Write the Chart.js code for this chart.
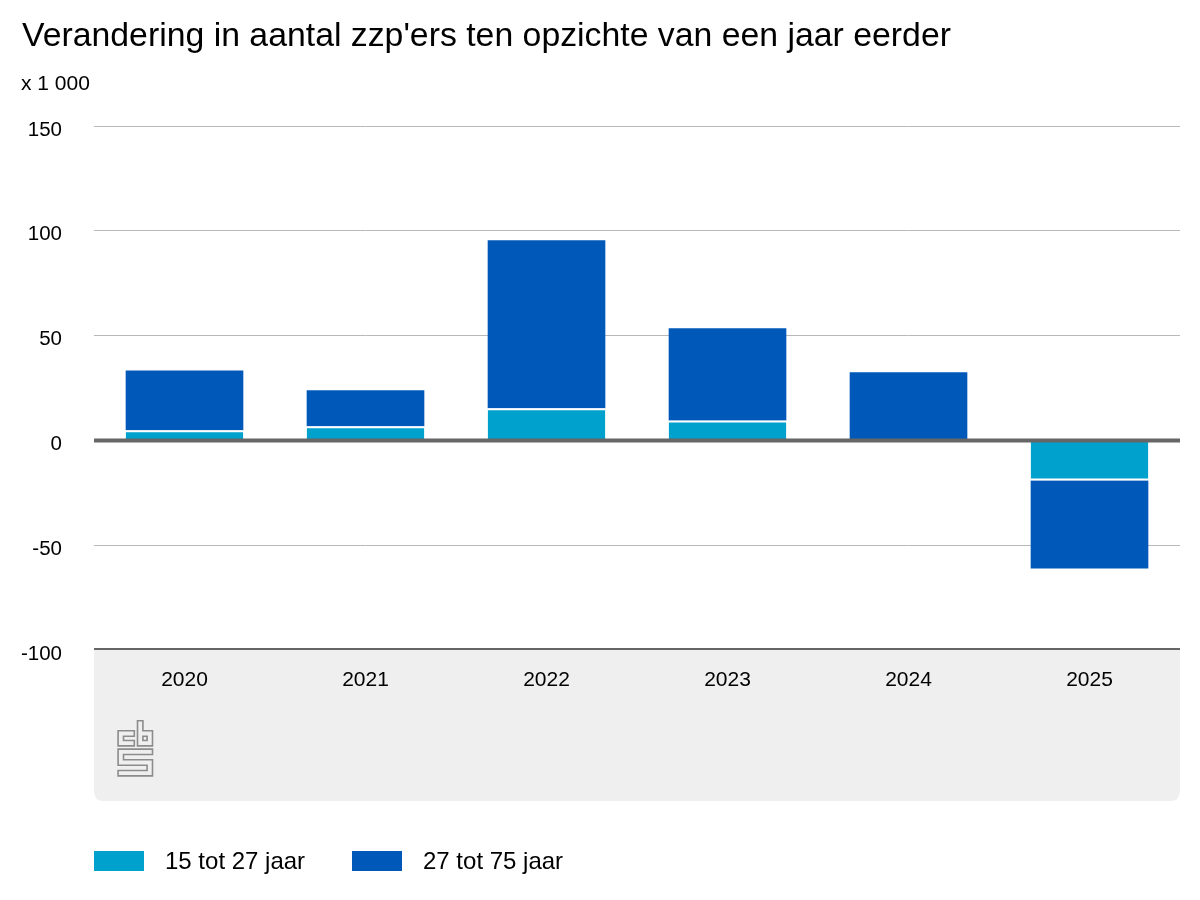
<!DOCTYPE html>
<html>
<head>
<meta charset="utf-8">
<script src="https://cdn.jsdelivr.net/npm/chart.js@4.4.1/dist/chart.umd.min.js"></script>
<style>
  html, body { margin: 0; padding: 0; background: #fff; }
  body { width: 1200px; height: 900px; position: relative; overflow: hidden; font-family: "Liberation Sans", Arial, Helvetica, sans-serif; }
  #wrap { position: absolute; left: 0; top: 0; width: 1200px; height: 900px; }
  #title { position: absolute; left: 22px; top: 18px; font-size: 33.8px; line-height: 1; color: #000; white-space: nowrap; }
  #unit { position: absolute; left: 21px; top: 72px; font-size: 21px; line-height: 1; color: #000; }
  .leg { position: absolute; top: 849px; font-size: 24px; line-height: 1; color: #000; display: flex; align-items: center; white-space: nowrap; }
  .leg .sw { width: 50px; height: 20px; margin-right: 21px; }
</style>
</head>
<body>
<div id="wrap"><canvas id="c" width="1200" height="900"></canvas></div>
<div id="title">Verandering in aantal zzp'ers ten opzichte van een jaar eerder</div>
<div id="unit">x 1 000</div>
<div class="leg" style="left:94px"><div class="sw" style="background:#00a1cd"></div>15 tot 27 jaar</div>
<div class="leg" style="left:352px"><div class="sw" style="background:#0058b8"></div>27 tot 75 jaar</div>
<script>
const categories = ['2020', '2021', '2022', '2023', '2024', '2025'];
const seriesNames = ['15 tot 27 jaar', '27 tot 75 jaar'];
const young = [4.8, 6.7, 15.3, 9.5, 0, -19.1];
const older = [28.6, 17.2, 80.2, 44.0, 32.5, -42.0];
const yTicks = [-100, -50, 0, 50, 100, 150];

const colors = ['#00a1cd', '#0058b8'];

function band(ctx, pts) {
  const path = () => { ctx.beginPath(); ctx.moveTo(pts[0][0], pts[0][1]); for (let i = 1; i < pts.length; i++) ctx.lineTo(pts[i][0], pts[i][1]); };
  ctx.lineCap = 'square'; ctx.lineJoin = 'miter';
  path(); ctx.strokeStyle = '#8c8c8c'; ctx.lineWidth = 7; ctx.stroke();
  path(); ctx.strokeStyle = '#efefef'; ctx.lineWidth = 3.8; ctx.stroke();
}

const decor = {
  id: 'decor',
  beforeDraw(chart) {
    const { ctx, chartArea } = chart;
    const l = chartArea.left, r = chartArea.right, t = chartArea.bottom, b = 801, rad = 10;
    ctx.save();
    ctx.fillStyle = '#efefef';
    ctx.beginPath();
    ctx.moveTo(l, t);
    ctx.lineTo(r, t);
    ctx.lineTo(r, b - rad);
    ctx.quadraticCurveTo(r, b, r - rad, b);
    ctx.lineTo(l + rad, b);
    ctx.quadraticCurveTo(l, b, l, b - rad);
    ctx.closePath();
    ctx.fill();
    // cbs logo
    band(ctx, [[131.6, 733.5], [120.8, 733.5], [120.8, 743.2], [131.6, 743.2]]);
    band(ctx, [[140.2, 723.5], [140.2, 743.2], [149.8, 743.2], [149.8, 733.5], [140.2, 733.5]]);
    band(ctx, [[149.8, 751.8], [120.8, 751.8], [120.8, 762.5], [149.8, 762.5], [149.8, 773.2], [120.8, 773.2]]);
    ctx.restore();
  },
  afterDatasetsDraw(chart) {
    const { ctx, chartArea, scales } = chart;
    ctx.save();
    ctx.strokeStyle = '#666666';
    ctx.lineWidth = 4;
    const y0 = scales.y.getPixelForValue(0);
    ctx.beginPath(); ctx.moveTo(chartArea.left, y0); ctx.lineTo(chartArea.right, y0); ctx.stroke();
    ctx.lineWidth = 2;
    const yb = scales.y.getPixelForValue(-100);
    ctx.beginPath(); ctx.moveTo(chartArea.left, yb - 1); ctx.lineTo(chartArea.right, yb - 1); ctx.stroke();
    ctx.restore();
  }
};

new Chart(document.getElementById('c'), {
  type: 'bar',
  data: {
    labels: categories,
    datasets: [
      { label: seriesNames[0], data: young, backgroundColor: colors[0], borderColor: '#ffffff',
        borderWidth: { top: 2, bottom: 2, left: 0, right: 0 }, borderSkipped: 'start',
        categoryPercentage: 0.65, barPercentage: 1.0 },
      { label: seriesNames[1], data: older, backgroundColor: colors[1], borderWidth: 0,
        categoryPercentage: 0.65, barPercentage: 1.0 }
    ]
  },
  options: {
    responsive: false,
    animation: false,
    devicePixelRatio: 1,
    layout: { padding: { left: 0, right: 20, top: 126, bottom: 190 } },
    plugins: { legend: { display: false }, tooltip: { enabled: false }, title: { display: false } },
    scales: {
      x: {
        stacked: true,
        grid: { display: false, drawTicks: false },
        border: { display: false },
        ticks: { color: '#000', font: { family: '"Liberation Sans", Arial, sans-serif', size: 21 }, padding: 18, maxRotation: 0 },
        afterFit(s) { s.height = 60; }
      },
      y: {
        stacked: true,
        min: -100, max: 150,
        afterBuildTicks(s) { s.ticks = yTicks.map(v => ({ value: v })); },
        grid: {
          drawTicks: false,
          color: ctx => (ctx.tick && (ctx.tick.value === 0 || ctx.tick.value === -100)) ? 'rgba(0,0,0,0)' : '#b8b8b8',
          lineWidth: 1
        },
        border: { display: false },
        ticks: { color: '#000', font: { family: '"Liberation Sans", Arial, sans-serif', size: 20.5 }, padding: 32, crossAlign: 'near', labelOffset: 4 },
        afterFit(s) { s.width = 94; }
      }
    }
  },
  plugins: [decor]
});
</script>
</body>
</html>
